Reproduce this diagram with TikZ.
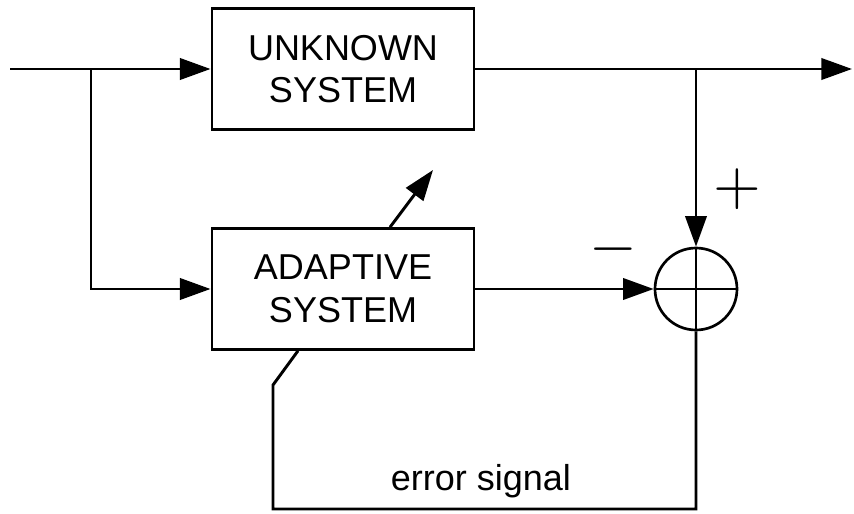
\documentclass[tikz,border=0pt]{standalone}
\usepackage{fontspec}
\setmainfont{Liberation Sans}
\usetikzlibrary{arrows.meta, positioning, calc}
\tikzset{
  sysbox/.style={draw, line width=2.2pt, minimum width=196.5pt, minimum height=90.5pt,
    align=center, font=\fontsize{27}{32}\selectfont},
  sumnode/.style={draw, circle, line width=2pt, minimum size=61.5pt, inner sep=0pt},
  sig/.style={line width=2.2pt},
  sigarrow/.style={sig, -{Triangle[length=23pt, width=16pt]}},
  signlabel/.style={font=\fontsize{10}{10}\selectfont, inner sep=0pt, scale=4.6},
}

\begin{document}
\begin{tikzpicture}[x=0.75pt, y=-0.75pt]
    \useasboundingbox (0,0) rectangle (854,514);

    % blocks
    \node[sysbox] (unknown) at (343,69) {UNKNOWN\\SYSTEM};
    \node[sysbox] (adaptive) at (343,289) {ADAPTIVE\\SYSTEM};
    \node[sumnode] (sum) at (696,289) {};

    \coordinate (in) at (10,69);
    \coordinate (split) at (91,69);
    \coordinate (out) at (852,69);
    \coordinate (errL) at (273,509);
    \coordinate (errK) at (273,385);
    \coordinate (tune) at (433,170);

    % input and output
    \draw[sigarrow] (in) -- (unknown.west);
    \draw[sigarrow] (split) |- (adaptive.west);
    \draw[sigarrow] (unknown.east) -- (out);
    \draw[sigarrow] (sum |- unknown.east) -- (sum.north);
    \draw[sigarrow] (adaptive.east) -- (sum.west);
    \draw[sigarrow] ($(adaptive.north)+(47,0)$) -- (tune);

    % summing junction
    \draw[line width=2pt] (sum.north) -- (sum.south) (sum.west) -- (sum.east);
    \node[signlabel] (minus) at (613,249) {$-$};
    \node[signlabel] (plus) at (737,189) {$+$};

    % error feedback
    \draw[sig] (sum.south) |- (errL) -- (errK) -- ($(adaptive.south)+(-45,0)$);
    \node[font=\fontsize{27}{32}\selectfont, anchor=base] (errlabel) at (481,490) {error signal};
\end{tikzpicture}
\end{document}
